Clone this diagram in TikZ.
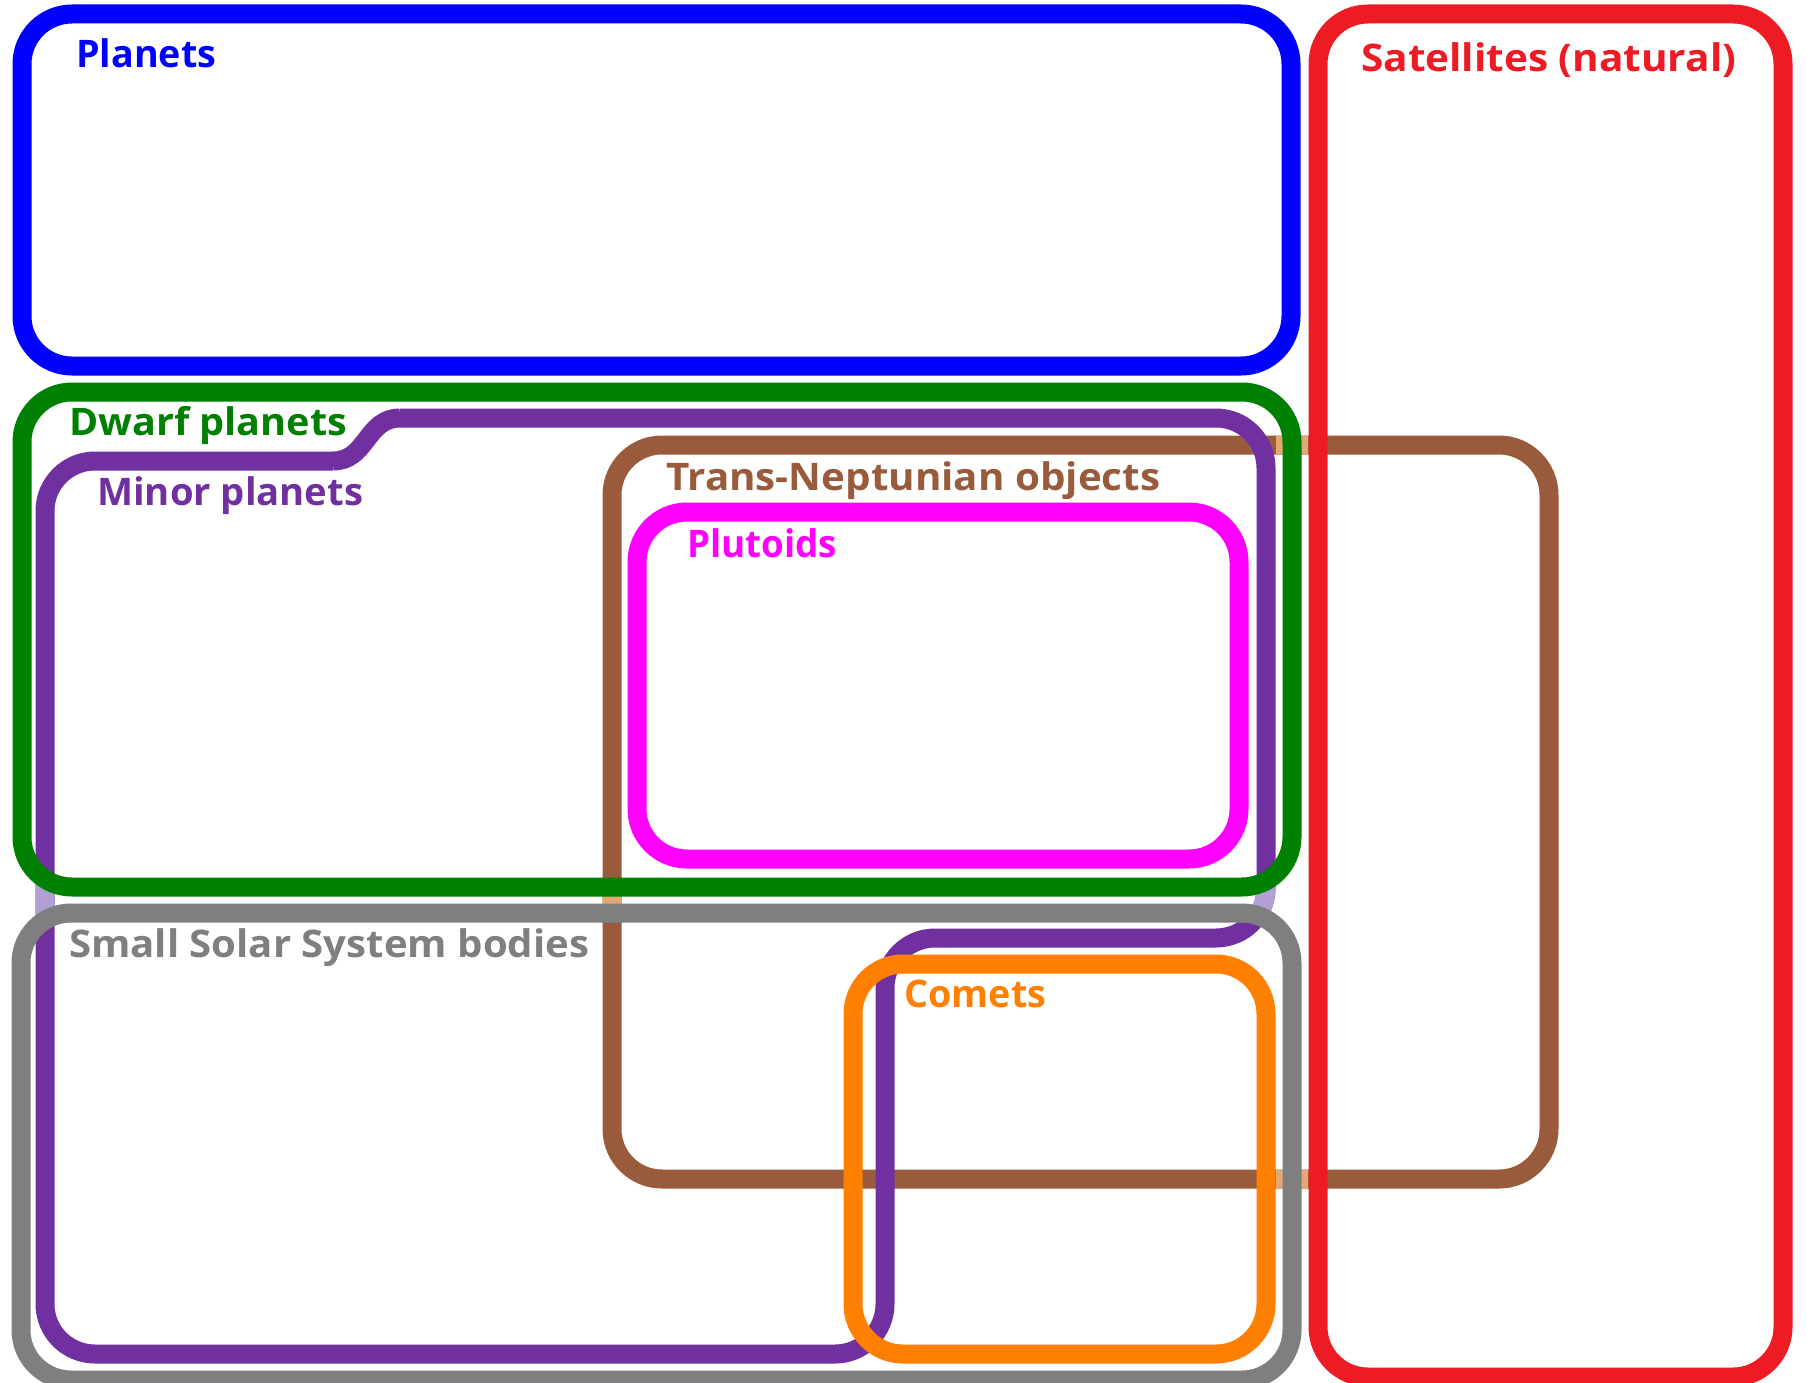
\documentclass[tikz,border=0pt]{standalone}
\usepackage{fontspec}
\setmainfont{Open Sans}
\definecolor{cblue}{RGB}{0,0,255}
\definecolor{cred}{RGB}{237,28,36}
\definecolor{cgreen}{RGB}{0,128,0}
\definecolor{cpurple}{RGB}{112,48,160}
\definecolor{clpurple}{RGB}{178,160,212}
\definecolor{cbrown}{RGB}{154,91,60}
\definecolor{ctan}{RGB}{228,168,118}
\definecolor{cmagenta}{RGB}{255,0,255}
\definecolor{cgray}{RGB}{127,127,127}
\definecolor{corange}{RGB}{255,128,0}
\newcommand\fitw[2]{\resizebox{#1pt}{\height}{#2}}
\tikzset{
  boxline/.style={line width=19pt, rounded corners=50pt},
  lbl/.style={anchor=base west, inner sep=0pt, font=\fontsize{38}{38}\selectfont\bfseries}
}
\begin{document}
\begin{tikzpicture}[x=1pt,y=-1pt]
\useasboundingbox (0,0) rectangle (1807,1383);
\fill[white] (0,0) rectangle (1807,1383);
% Trans-Neptunian objects
\draw[boxline, cbrown] (612,445) rectangle (1549,1179);
% Minor planets
\draw[boxline, cpurple] (400,418) -- (1266,418) -- (1266,938) -- (885,938) -- (885,1354) -- (45,1354) -- (45,461) -- (333,461);
\draw[line width=19pt, cpurple] (333,461) .. controls (367,461) and (366,418) .. (400,418);
% lightened parts in the gaps
\begin{scope}
\clip (0,878) rectangle (1276,922) (1276,0) rectangle (1308,1383);
\draw[boxline, ctan] (612,445) rectangle (1549,1179);
\draw[boxline, clpurple] (400,418) -- (1266,418) -- (1266,938) -- (885,938) -- (885,1354) -- (45,1354) -- (45,461) -- (333,461);
\end{scope}
% Plutoids
\draw[boxline, cmagenta] (637,512) rectangle (1239,859);
% Comets
\draw[boxline, corange] (853,964) rectangle (1266,1354);
% Dwarf planets
\draw[boxline, cgreen] (22,392) rectangle (1292,887);
% Small Solar System bodies
\draw[boxline, cgray] (21,913) rectangle (1292,1380);
% Planets
\draw[boxline, cblue] (22,14) rectangle (1291,366);
% Satellites
\draw[boxline, cred] (1318,14) rectangle (1783,1377);
% labels
\node[lbl, text=cblue] (planets) at (76,68) {\fitw{140}{Planets}};
\node[lbl, text=cred] (sat) at (1361,72) {\fitw{375}{Satellites (natural)}};
\node[lbl, text=cgreen] (dwarf) at (69,435) {\fitw{278}{Dwarf planets}};
\node[lbl, text=cpurple] (minor) at (97,505) {\fitw{266}{Minor planets}};
\node[lbl, text=cbrown] (tno) at (666,490) {\fitw{494}{Trans-Neptunian objects}};
\node[lbl, text=cmagenta] (plut) at (687,557) {\fitw{150}{Plutoids}};
\node[lbl, text=cgray] (sssb) at (69,957) {\fitw{520}{Small Solar System bodies}};
\node[lbl, text=corange] (comets) at (904,1007) {\fitw{142}{Comets}};
\end{tikzpicture}
\end{document}
